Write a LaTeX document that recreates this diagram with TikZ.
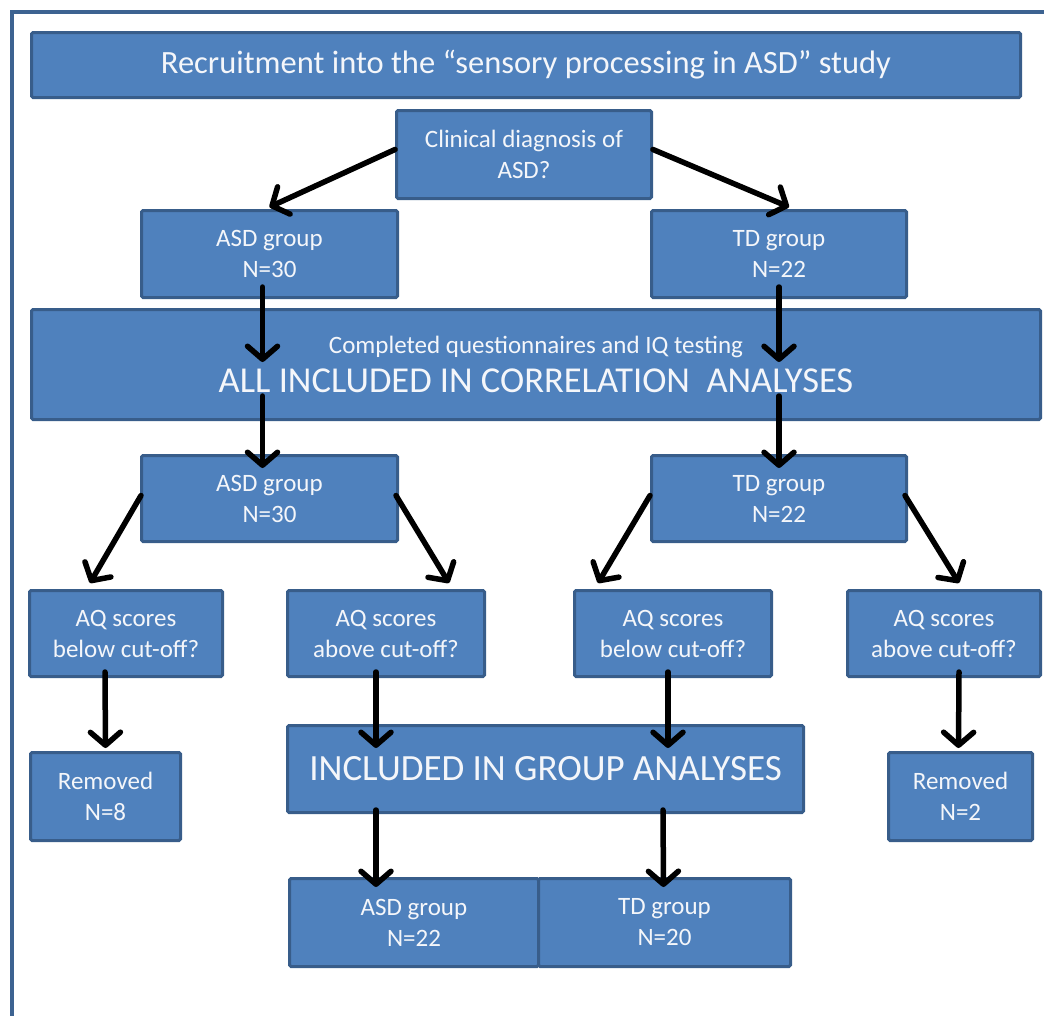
\documentclass[tikz,border=0pt]{standalone}
\usepackage{fontspec}
\setmainfont{Carlito}
\usetikzlibrary{arrows.meta,calc}
\definecolor{boxfill}{HTML}{4F81BD}
\definecolor{boxline}{HTML}{385D8A}
\definecolor{frameline}{HTML}{3D6391}
\definecolor{txt}{HTML}{F4F6FA}
\tikzset{
  box/.style={draw=boxline, fill=boxfill, line width=3pt, rounded corners=1.5pt,
    text=txt, align=center, inner sep=0pt, anchor=north west},
  small/.style={font=\fontsize{25}{31}\selectfont},
  flow/.style={draw=black, line width=5.5pt, line cap=round, line join=round,
    -{Straight Barb[length=13pt,width=30pt,line cap=round,line join=round]}},
}
\begin{document}
\begin{tikzpicture}[x=1pt,y=-1pt]
\useasboundingbox (0,0) rectangle (1044,1015);
% outer frame, open to the right and bottom
\draw[frameline, line width=4pt] (12,1020) -- (12,12) -- (1050,12);

% boxes: top-left corner, width and height in pixels
\node[box, minimum width=989, minimum height=65, font=\fontsize{32.5}{38}\selectfont]
  (title) at (30,31) {Recruitment into the “sensory processing in ASD” study};
\node[box, small, minimum width=255, minimum height=88] (clin) at (395,109)
  {Clinical diagnosis of\\ASD?};
\node[box, small, minimum width=256, minimum height=87] (asd1) at (140,209)
  {ASD group\\N=30};
\node[box, small, minimum width=255, minimum height=87] (td1) at (650,209)
  {TD group\\N=22};
\node[box, minimum width=1009, minimum height=110] (big) at (30,308)
  {\fontsize{25}{30}\selectfont Completed questionnaires and IQ testing\\[10pt]
   \fontsize{36.5}{40}\selectfont ALL INCLUDED IN CORRELATION~ ANALYSES};
\node[box, small, minimum width=256, minimum height=86] (asd2) at (140,454)
  {ASD group\\N=30};
\node[box, small, minimum width=255, minimum height=86] (td2) at (650,454)
  {TD group\\N=22};
\node[box, small, minimum width=193, minimum height=86] (aqb1) at (28,589)
  {AQ scores\\below cut-off?};
\node[box, small, minimum width=197, minimum height=86] (aqa1) at (286,589)
  {AQ scores\\above cut-off?};
\node[box, small, minimum width=197, minimum height=86] (aqb2) at (573,589)
  {AQ scores\\below cut-off?};
\node[box, small, minimum width=193, minimum height=86] (aqa2) at (846,589)
  {AQ scores\\above cut-off?};
\node[box, small, minimum width=150, minimum height=88] (rem1) at (29,751)
  {Removed\\N=8};
\node[box, minimum width=516, minimum height=87, font=\fontsize{37}{42}\selectfont]
  (group) at (286,724) {INCLUDED IN GROUP ANALYSES};
\node[box, small, minimum width=144, minimum height=88] (rem2) at (887,751)
  {Removed\\N=2};
\node[box, small, minimum width=249, minimum height=88] (asdfin) at (288,877)
  {ASD group\\N=22};
\node[box, small, minimum width=252, minimum height=88] (tdfin) at (537,877)
  {TD group\\N=20};

% connectors
\draw[flow] ($(clin.west)+(0,-5)$) -- ($(asd1.north)+(0,-2)$);
\draw[flow] ($(clin.east)+(0,-5)$) -- ($(td1.north)+(10,-2)$);
\draw[flow] ($(asd1.south)+(-7,-12)$) -- ($(big.north -| asd1.south)+(-7,54)$);
\draw[flow] ($(big.south -| asd1.south)+(-7,-25)$) -- ($(asd2.north)+(-7,14)$);
\draw[flow] ($(td1.south)+(0,-12)$) -- ($(big.north -| td1.south)+(0,54)$);
\draw[flow] ($(big.south -| td1.south)+(0,-25)$) -- ($(td2.north)+(0,14)$);
\draw[flow] ($(asd2.west)+(1,-3)$) -- ($(aqb1.north)+(-36,-6)$);
\draw[flow] ($(asd2.east)+(-3,-3)$) -- ($(aqa1.north)+(63,-6)$);
\draw[flow] ($(td2.west)+(0,-3)$) -- ($(aqb2.north)+(-75,-6)$);
\draw[flow] ($(td2.east)+(-3,-3)$) -- ($(aqa2.north)+(15,-6)$);
\draw[flow] ($(aqb1.south)+(-21,-6)$) -- ($(rem1.north)+(0,-3)$);
\draw[flow] ($(aqa1.south)+(-10,-6)$) -- ($(group.north -| aqa1.south)+(-10,24)$);
\draw[flow] ($(aqb2.south)+(-5,-6)$) -- ($(group.north -| aqb2.south)+(-5,24)$);
\draw[flow] ($(aqa2.south)+(15,-6)$) -- ($(rem2.north)+(-2,-3)$);
\draw[flow] ($(group.south -| aqa1.south)+(-10,-4)$) -- ($(asdfin.north)+(-38,10)$);
\draw[flow] ($(group.south -| aqb2.south)+(-10,-4)$) -- ($(tdfin.north)+(-1,10)$);
\end{tikzpicture}
\end{document}
